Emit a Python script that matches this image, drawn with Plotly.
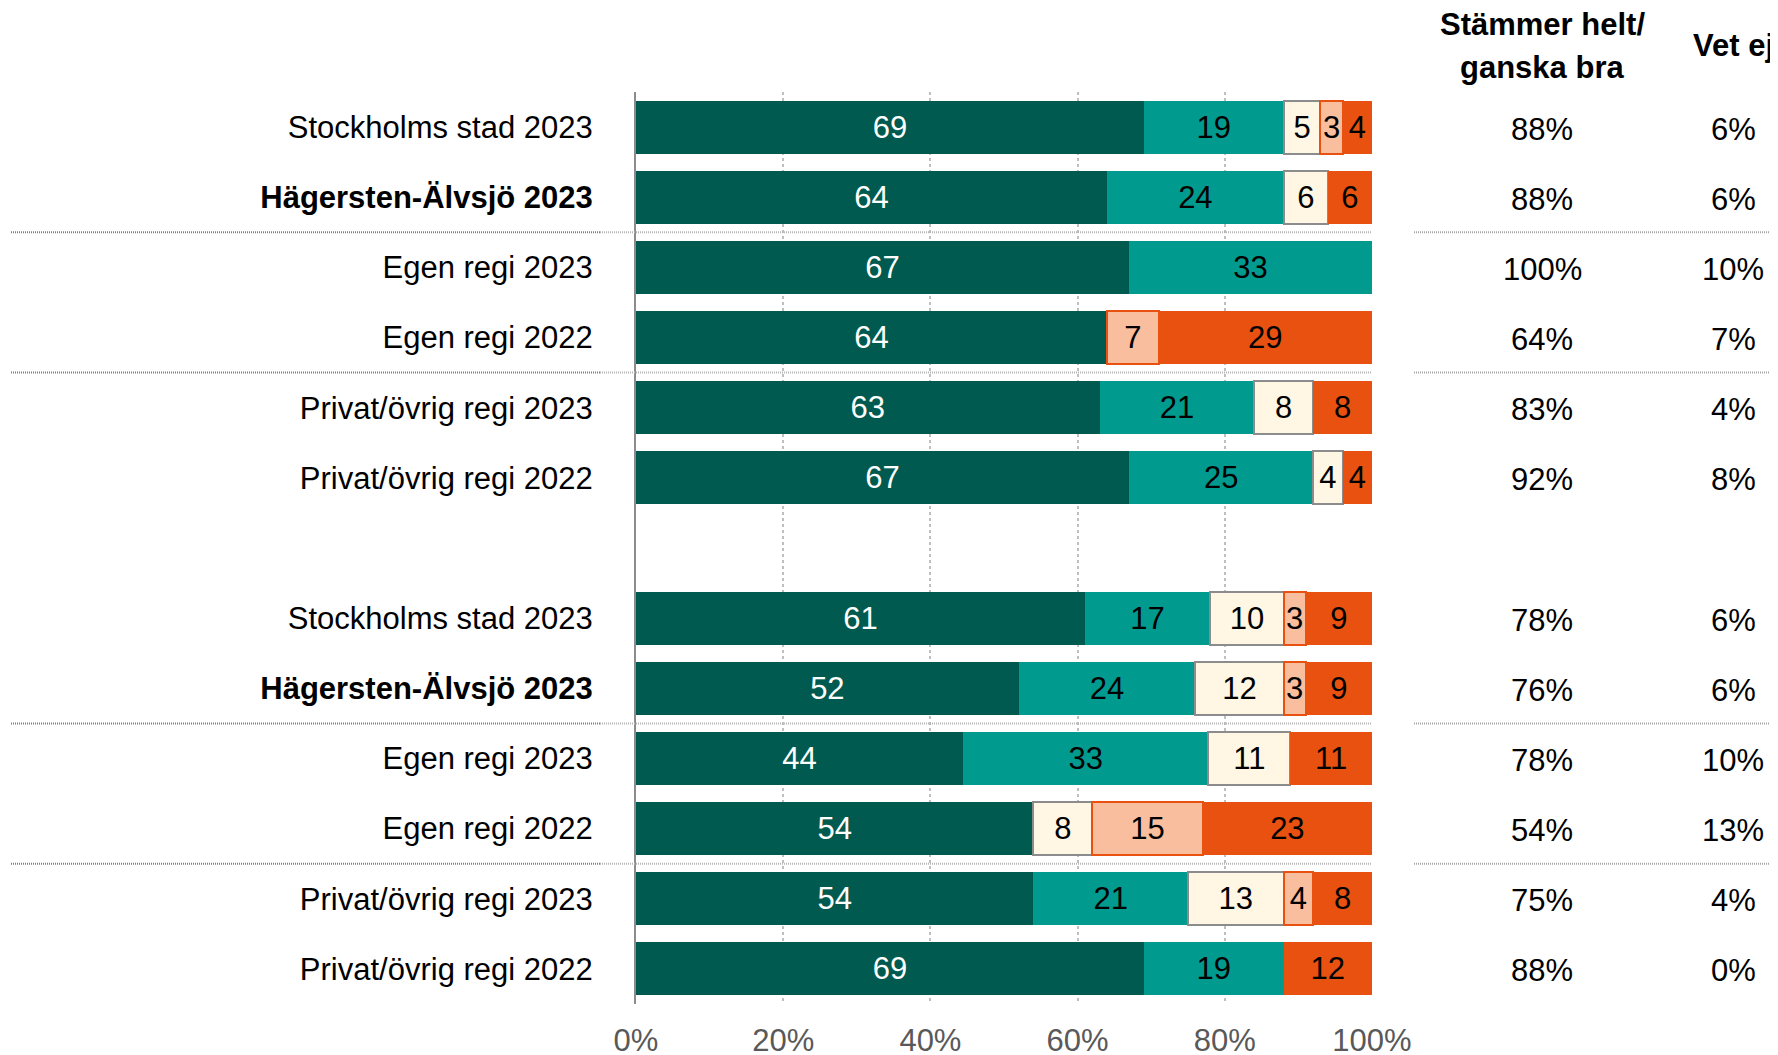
import plotly.graph_objects as go

# ---- data ----
row_labels = [
    "Stockholms stad 2023", "<b>Hägersten-Älvsjö 2023</b>", "Egen regi 2023",
    "Egen regi 2022", "Privat/övrig regi 2023", "Privat/övrig regi 2022",
    "",
    "Stockholms stad 2023", "<b>Hägersten-Älvsjö 2023</b>", "Egen regi 2023",
    "Egen regi 2022", "Privat/övrig regi 2023", "Privat/övrig regi 2022",
]
helt = [69, 64, 67, 64, 63, 67, None, 61, 52, 44, 54, 54, 69]
ganska = [19, 24, 33, None, 21, 25, None, 17, 24, 33, None, 21, 19]
varken = [5, 6, None, None, 8, 4, None, 10, 12, 11, 8, 13, None]
ganska_daligt = [3, None, None, 7, None, None, None, 3, 3, None, 15, 4, None]
mycket_daligt = [4, 6, None, 29, 8, 4, None, 9, 9, 11, 23, 8, 12]

col_bra = ["88%", "88%", "100%", "64%", "83%", "92%", "",
           "78%", "76%", "78%", "54%", "75%", "88%"]
col_vetej = ["6%", "6%", "10%", "7%", "4%", "8%", "",
             "6%", "6%", "10%", "13%", "4%", "0%"]
col_header_lines = [["Stämmer helt/", "ganska bra"], ["Vet ej"]]

x_ticks = [0, 20, 40, 60, 80, 100]
x_ticktext = ["0%", "20%", "40%", "60%", "80%", "100%"]
separators_after = [1, 3, 8, 10]

series = [
    (helt, "#005A4F", "#005A4F", 0, "white"),
    (ganska, "#009A8F", "#009A8F", 0, "black"),
    (varken, "#FFF6E4", "#8C8C8C", 2, "black"),
    (ganska_daligt, "#F8BE9E", "#E8510F", 2, "black"),
    (mycket_daligt, "#E8510F", "#E8510F", 0, "black"),
]

# page has an 8px body margin; lay the figure out in page pixels minus 8
OFF = 8
W, H = 1778 - OFF, 1055 - OFF
FONT = "Liberation Sans, Arial, sans-serif"
ypos = list(range(len(row_labels)))


def px(v):
    return v - OFF


fig = go.Figure()
for vals, fill, line_c, line_w, txt_c in series:
    fig.add_trace(go.Bar(
        y=ypos, x=vals, orientation="h", width=0.755,
        marker=dict(color=fill, line=dict(color=line_c, width=line_w)),
        text=["" if v is None else str(v) for v in vals],
        texttemplate="%{text}", textposition="inside",
        insidetextanchor="middle", textangle=0, constraintext="none",
        textfont=dict(family=FONT, size=31, color=txt_c),
        hoverinfo="skip", showlegend=False,
    ))

# invisible anchor trace for the right-hand x2 axis
fig.add_trace(go.Scatter(x=[0, 1], y=[0, 0], mode="markers",
                         marker=dict(opacity=0), xaxis="x2", yaxis="y",
                         hoverinfo="skip", showlegend=False))

plot_l, plot_r = px(636), px(1372)
t = px(92)
b = H - px(1004)
plot_h = H - t - b

# x2 mapping: column 0 -> 1542px, column 1 -> 1733px (page)
x2_l, x2_r = px(1414), W
c0, c1 = px(1542), px(1733)
ppu = c1 - c0
x2_range = [(x2_l - c0) / ppu, (x2_r - c0) / ppu]

# right-hand column values
for i, col in enumerate([col_bra, col_vetej]):
    for r, txt in zip(ypos, col):
        if txt:
            fig.add_annotation(
                x=i, xref="x2", y=r, yref="y", text=txt, showarrow=False,
                xanchor="center", yanchor="middle", yshift=-2,
                font=dict(family=FONT, size=31, color="black"),
            )

# column headers
header_centers = [[25, 68], [45]]
for i, lines in enumerate(col_header_lines):
    for line, yc in zip(lines, header_centers[i]):
        fig.add_annotation(
            x=i, xref="x2", y=1 + (t - px(yc)) / plot_h, yref="paper",
            text="<b>" + line + "</b>", showarrow=False,
            xanchor="center", yanchor="middle",
            font=dict(family=FONT, size=31, color="black"),
        )

for s in separators_after:
    yy = s + 0.5
    fig.add_shape(type="line", xref="paper", yref="y",
                  x0=px(11) / W, x1=px(600) / W, y0=yy, y1=yy,
                  line=dict(color="#7f7f7f", width=2, dash="1px,1px"))
    fig.add_shape(type="line", xref="paper", yref="y",
                  x0=px(600) / W, x1=plot_r / W, y0=yy, y1=yy,
                  line=dict(color="#b5b5b5", width=2, dash="1px,1px"))
    fig.add_shape(type="line", xref="paper", yref="y",
                  x0=x2_l / W, x1=1.0, y0=yy, y1=yy,
                  line=dict(color="#a5a5a5", width=2, dash="1px,1px"))

fig.update_layout(
    width=W, height=H, barmode="stack", barnorm="percent",
    plot_bgcolor="white", paper_bgcolor="white",
    margin=dict(l=0, r=0, t=t, b=b, autoexpand=False),
    font=dict(family=FONT, size=31, color="black"),
    xaxis=dict(
        domain=[plot_l / W, plot_r / W], range=[0, 100],
        tickvals=x_ticks, ticktext=x_ticktext,
        tickfont=dict(family=FONT, size=31, color="#595959"),
        showgrid=True, gridcolor="#bfbfbf", gridwidth=2, griddash="dot",
        zeroline=False, showline=False, ticks="", ticklabelstandoff=15,
        automargin=False, fixedrange=True,
    ),
    xaxis2=dict(
        domain=[x2_l / W, 1.0], range=x2_range, visible=False,
        anchor="y", fixedrange=True,
    ),
    yaxis=dict(
        range=[len(row_labels) - 0.5, -0.5], tickvals=ypos, ticktext=row_labels,
        tickfont=dict(family=FONT, size=31, color="black"),
        showline=True, linecolor="#8c8c8c", linewidth=2,
        showgrid=False, zeroline=False, ticks="", ticklabelstandoff=35,
        automargin=False, fixedrange=True,
    ),
    uniformtext=dict(mode=False),
)

fig.write_html("out.html")
